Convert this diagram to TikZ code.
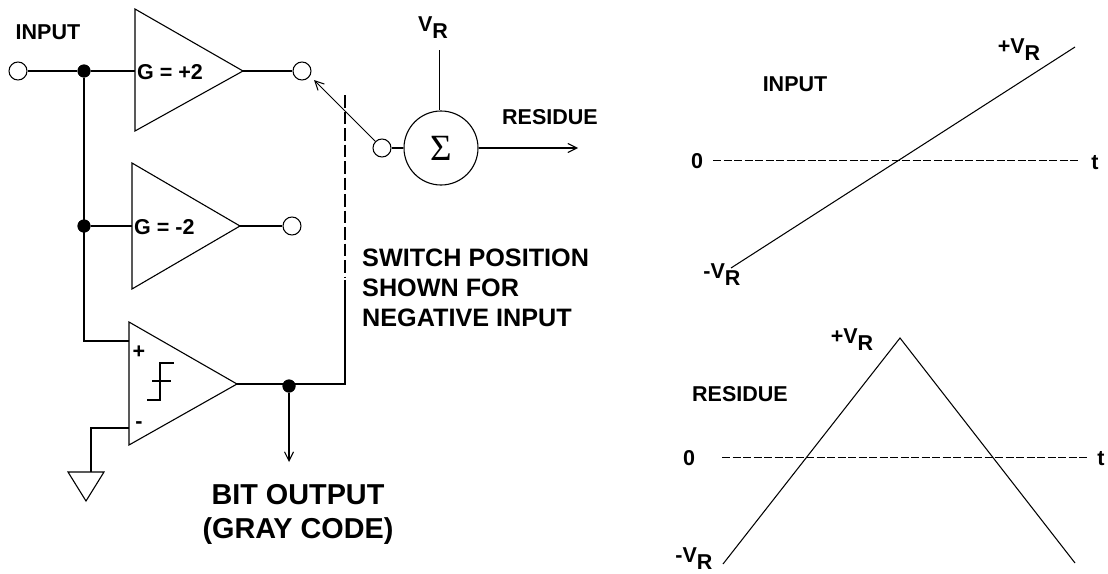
\documentclass[tikz,border=0pt]{standalone}
\usepackage{fontspec}
\setmainfont{Liberation Sans}
\newfontfamily\sigmafont{Liberation Serif}
\usetikzlibrary{arrows.meta}
\tikzset{
  wire/.style={line width=1.05pt,black},
  arrowed/.style={wire,-{Straight Barb[length=9pt,width=9pt,line width=1.05pt]}},
  amp/.style={line width=1.1pt,fill=white},
  term/.style={circle,draw,line width=1.05pt,fill=white,minimum size=18pt,inner sep=0pt},
  junction/.style={circle,fill=black,minimum size=13pt,inner sep=0pt},
  dashline/.style={line width=1.8pt,dash pattern=on 12.5pt off 4pt},
  graphdash/.style={line width=1pt,dash pattern=on 8pt off 2.5pt},
  lab/.style={font=\bfseries\fontsize{21.5}{26}\selectfont,inner sep=0pt},
  note/.style={font=\bfseries\fontsize{25.2}{30}\selectfont,inner sep=0pt,align=left},
  big/.style={font=\bfseries\fontsize{28.8}{34}\selectfont,inner sep=0pt,align=center},
}
\newcommand{\Vr}[1]{#1V\raisebox{-0.32em}{R}}
\begin{document}
\begin{tikzpicture}[x=1pt,y=-1pt]
\useasboundingbox (0,0) rectangle (1108,573);
% coordinates
\node[term] (in) at (18,71) {};
\node[junction] (j1) at (84,71) {};
\node[junction] (j2) at (84,226) {};
\node[junction] (j3) at (289,386) {};
\node[term] (o1) at (302,71) {};
\node[term] (o2) at (292,226) {};
\node[term] (sw) at (382,148) {};
\node[circle,draw,line width=1.1pt,minimum size=74pt,inner sep=0pt,font=\sigmafont\fontsize{37}{40}\selectfont] (sum) at (441,148) {Σ};
\coordinate (a1in) at (135,71);
\coordinate (a1out) at (243,71);
\coordinate (a2in) at (132,226);
\coordinate (a2out) at (240,226);
\coordinate (a3p) at (129,341);
\coordinate (a3m) at (129,428);
\coordinate (a3out) at (237,384);
\coordinate (corner) at (345,384);
\coordinate (dashstart) at (345,278);
\coordinate (dashend) at (345,95);
\coordinate (vr) at (439.5,50);
\coordinate (resout) at (578,148);
\coordinate (bitout) at (289,462);
\coordinate (gndtop) at (91,472);
% wires
\draw[wire] (in) -- (j1) -- (a1in);
\draw[wire] (j1) -- (84,341) -- (a3p);
\draw[wire] (j2) -- (a2in);
\draw[wire] (a1out) -- (o1);
\draw[wire] (a2out) -- (o2);
\draw[wire] (a3out) -- (corner) -- (345,280);
\draw[dashline] (dashend) -- (dashstart);
\draw[wire] (sw) -- (sum);
\draw[arrowed] (sw) -- (314,80);
\draw[wire] (vr) -- (sum.north -| vr);
\draw[arrowed] (sum) -- (resout);
\draw[arrowed] (j3) -- (bitout);
\draw[wire] (a3m) -- (91,428) -- (gndtop);
% amplifiers
\draw[amp] (135,9) -- (243,71) -- (135,131) -- cycle;
\draw[amp] (132,163) -- (240,226) -- (132,289) -- cycle;
\draw[amp] (129,322) -- (237,384) -- (129,445) -- cycle;
\draw[amp] (68,472) -- (104,472) -- (86,501) -- cycle;
% redraw nodes above wires
\node[junction] at (j1) {};
\node[junction] at (j2) {};
\node[junction] at (j3) {};
% step
\draw[wire] (147,400) -- (160,400) -- (160,363) -- (174,363);
\draw[wire] (152,381) -- (171,381);
% labels
\node[lab,anchor=center] (tin) at (48,32) {INPUT};
\node[lab,anchor=west] (g1) at (137,72) {G = +2};
\node[lab,anchor=west] (g2) at (134,227) {G = -2};
\node[lab] (tp) at (139,352) {+};
\node[lab] (tm) at (139,425) {-};
\node[lab] (tvr) at (433,28) {\Vr{}};
\node[lab] (tres) at (550,117) {RESIDUE};
\node[note,anchor=north west] (tsw) at (362,249) {SWITCH POSITION\\SHOWN FOR\\NEGATIVE INPUT};
\node[big] (tbit) at (298,514) {BIT OUTPUT\\(GRAY CODE)};
% right graphs
\node[lab] (ginput) at (795,84) {INPUT};
\node[lab] (g0a) at (697,161) {0};
\node[lab] (gta) at (1095,163) {t};
\node[lab] (gpa) at (1019,50) {\Vr{+}};
\node[lab] (gma) at (722,275) {\Vr{-}};
\coordinate (da1) at (713,160);
\coordinate (da2) at (1078,160);
\draw[graphdash] (da1) -- (da2);
\coordinate (ra1) at (731,268);
\coordinate (ra2) at (1075,47);
\draw[wire] (ra1) -- (ra2);
\node[lab] (gres) at (740,394) {RESIDUE};
\node[lab] (g0b) at (689,458) {0};
\node[lab] (gtb) at (1101,459) {t};
\node[lab] (gpb) at (852,340) {\Vr{+}};
\node[lab] (gmb) at (694,559) {\Vr{-}};
\coordinate (db1) at (722,457);
\coordinate (db2) at (1087,457);
\draw[graphdash] (db1) -- (db2);
\coordinate (tb1) at (723,564);
\coordinate (tb2) at (900,338);
\coordinate (tb3) at (1075,563);
\draw[wire] (tb1) -- (tb2) -- (tb3);
\end{tikzpicture}
\end{document}
